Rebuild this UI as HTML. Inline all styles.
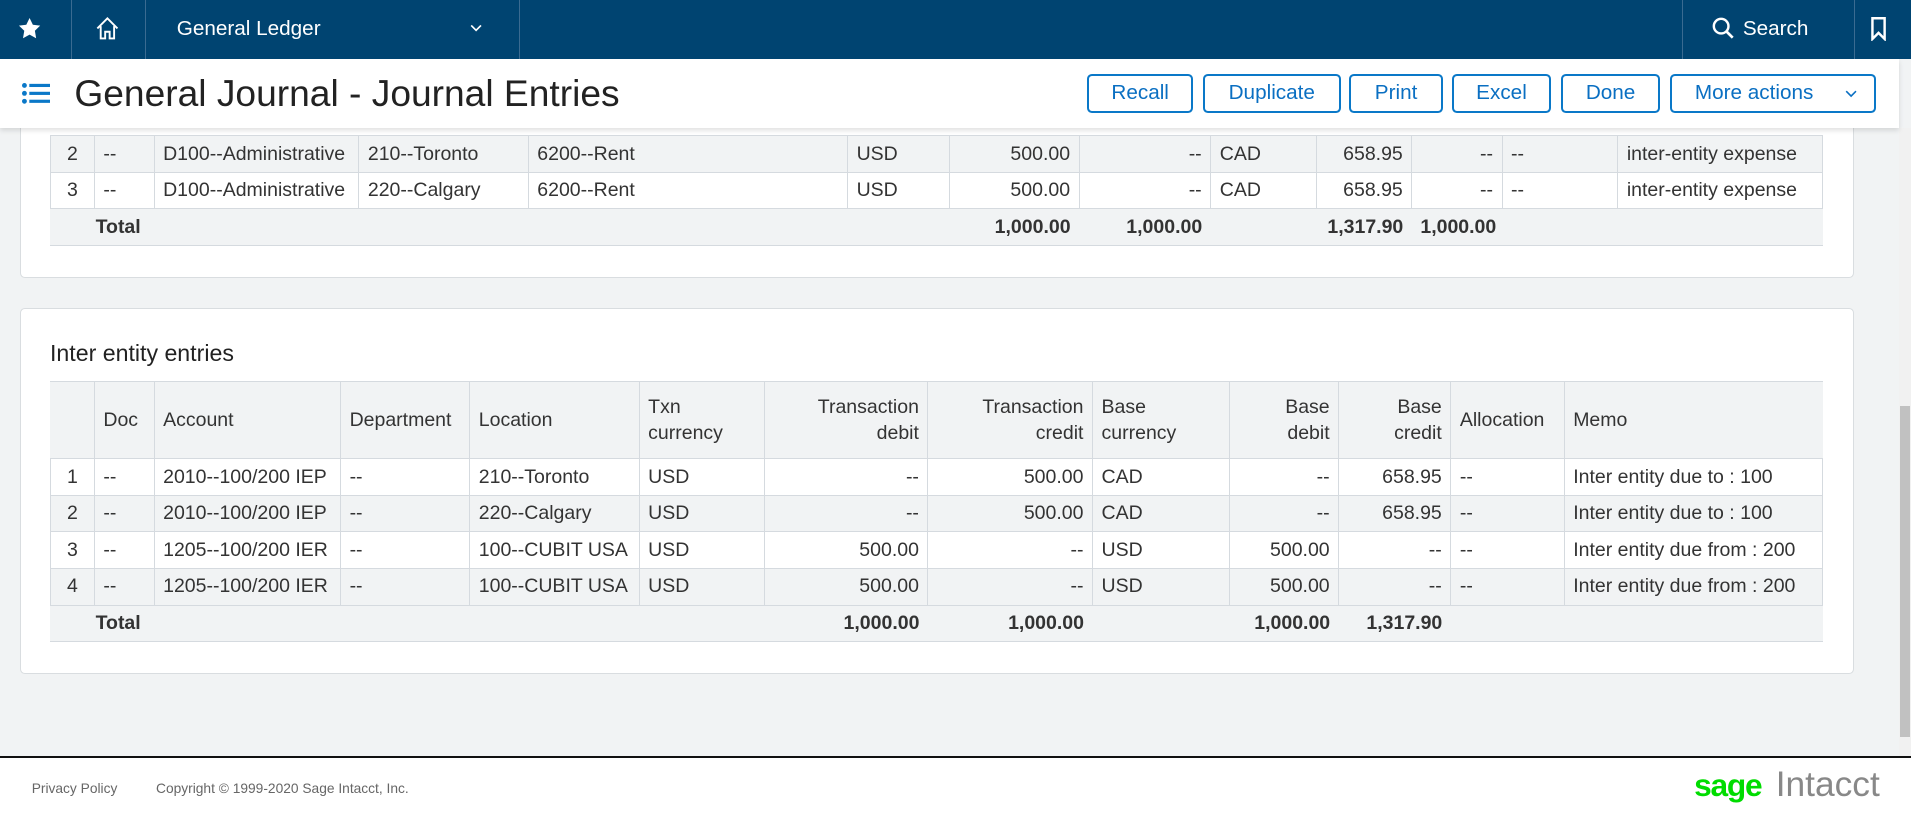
<!DOCTYPE html>
<html><head><meta charset="utf-8"><style>
*{box-sizing:border-box;margin:0;padding:0}
html,body{width:1911px;height:815px;overflow:hidden;background:#f1f3f4}
#root{zoom:1.21875;width:1568px;height:669px;position:relative;font-family:"Liberation Sans",Arial,sans-serif;color:#333;background:#f1f3f4;overflow:hidden}
.nav{position:absolute;left:0;top:0;width:1568px;height:48px;background:#004471;z-index:5}
.nav .d{position:absolute;top:0;width:1px;height:48px;background:#3a6b91}
.nav .t{position:absolute;color:#fff;font-size:17px;top:14px}
.hdr{position:absolute;left:0;top:48px;width:1558px;height:57px;background:#fff;box-shadow:0 2px 4px rgba(0,0,0,.12);z-index:4}
.title{position:absolute;left:61px;top:11px;font-size:30.5px;color:#222}
.btn{position:absolute;top:13px;height:32px;border:2px solid #0a78c8;border-radius:4px;color:#0a6fc2;font-size:17px;line-height:28px;text-align:center;background:#fff}
.card{position:absolute;left:16px;width:1505px;background:#fff;border:1px solid #d9dde0;border-radius:4px}
table{position:absolute;border-collapse:collapse;table-layout:fixed;font-size:16px;color:#333}
td{border:1px solid #d5dadf;height:30px;padding:0 7px;white-space:nowrap;overflow:hidden}
tr.g td{background:#f1f3f4}
tr.w td{background:#fff}
td.r{text-align:right}
td.n{text-align:center;padding:0}
td.nb{border-left:none;border-right:none}
th{font-weight:normal;border:1px solid #d5dadf;background:#f1f3f4;padding:0 7px;text-align:left;height:63px;line-height:22px;vertical-align:middle;white-space:nowrap}
th.r{text-align:right}
.sb{position:absolute;left:1558px;top:105px;width:10px;height:515px;background:#f1f1f1}
.foot{position:absolute;left:0;top:620px;width:1568px;height:49px;background:#fff;border-top:2px solid #111}
</style></head><body><div id="root">

<div class="nav">
 <div class="d" style="left:58px"></div><div class="d" style="left:119px"></div><div class="d" style="left:426px"></div><div class="d" style="left:1380px"></div><div class="d" style="left:1521px"></div>
 <svg style="position:absolute;left:15px;top:14px" width="19" height="19" viewBox="0 0 24 24"><path fill="#fff" d="M12 1l3.4 7 7.6 1-5.5 5.3 1.3 7.7L12 18.3 5.2 22l1.3-7.7L1 9l7.6-1z"/></svg>
 <svg style="position:absolute;left:77px;top:12px" width="22" height="22" viewBox="0 0 24 24"><path fill="none" stroke="#fff" stroke-width="1.7" d="M3 12L12 3l9 9M6 10v11h4v-6h4v6h4V10"/></svg>
 <div class="t" style="left:145px">General Ledger</div>
 <svg style="position:absolute;left:386px;top:19px" width="10" height="8" viewBox="0 0 10 8"><path d="M1 2l4 4 4-4" fill="none" stroke="#fff" stroke-width="1.4"/></svg>
 <svg style="position:absolute;left:1405px;top:14px" width="18" height="19" viewBox="0 0 18 19"><circle cx="7.5" cy="7.5" r="6" fill="none" stroke="#fff" stroke-width="2"/><path d="M12 12l5 5" stroke="#fff" stroke-width="2.2"/></svg>
 <div class="t" style="left:1430px">Search</div>
 <svg style="position:absolute;left:1534px;top:14px" width="14" height="20" viewBox="0 0 14 20"><path d="M2 1h10v17l-5-5-5 5z" fill="none" stroke="#fff" stroke-width="2"/></svg>
</div>

<div class="hdr">
 <svg style="position:absolute;left:18px;top:20px" width="23" height="17" viewBox="0 0 23 17"><g fill="#0a78c8"><circle cx="2" cy="2" r="2"/><circle cx="2" cy="8.5" r="2"/><circle cx="2" cy="15" r="2"/><rect x="6" y="0.7" width="17" height="2.6"/><rect x="6" y="7.2" width="17" height="2.6"/><rect x="6" y="13.7" width="17" height="2.6"/></g></svg>
 <div class="title">General Journal - Journal Entries</div>
 <div class="btn" style="left:892px;width:87px">Recall</div>
 <div class="btn" style="left:987px;width:113px">Duplicate</div>
 <div class="btn" style="left:1107px;width:77px">Print</div>
 <div class="btn" style="left:1191px;width:82px">Excel</div>
 <div class="btn" style="left:1281px;width:81px">Done</div>
 <div class="btn" style="left:1370px;width:169px;text-align:left;padding-left:19px">More actions<svg style="position:absolute;left:142px;top:11px" width="10" height="7" viewBox="0 0 10 7"><path d="M1 1l4 4 4-4" fill="none" stroke="#0a6fc2" stroke-width="1.3"/></svg></div>
</div>

<div class="card" style="top:60px;height:168px"></div>
<table style="left:41px;top:111px;width:1454px">
<colgroup><col style="width:36px"><col style="width:49px"><col style="width:168px"><col style="width:139px"><col style="width:262px"><col style="width:84px"><col style="width:106px"><col style="width:108px"><col style="width:87px"><col style="width:78px"><col style="width:74px"><col style="width:95px"><col style="width:168px"></colgroup>
<tr class="g"><td class="n">2</td><td>--</td><td>D100--Administrative</td><td>210--Toronto</td><td>6200--Rent</td><td>USD</td><td class="r">500.00</td><td class="r">--</td><td>CAD</td><td class="r">658.95</td><td class="r">--</td><td>--</td><td>inter-entity expense</td></tr>
<tr class="w"><td class="n">3</td><td>--</td><td>D100--Administrative</td><td>220--Calgary</td><td>6200--Rent</td><td>USD</td><td class="r">500.00</td><td class="r">--</td><td>CAD</td><td class="r">658.95</td><td class="r">--</td><td>--</td><td>inter-entity expense</td></tr>
<tr class="g"><td class="nb" style="border-left:none"></td><td colspan="5" class="nb" style="font-weight:bold;padding-left:1px">Total</td><td class="r nb" style="font-weight:bold">1,000.00</td><td class="r nb" style="font-weight:bold">1,000.00</td><td class="nb"></td><td class="r nb" style="font-weight:bold">1,317.90</td><td class="r nb" style="font-weight:bold">1,000.00</td><td class="nb"></td><td class="nb" style="border-right:none"></td></tr>
</table>

<div class="card" style="top:253px;height:300px"></div>
<div style="position:absolute;left:41px;top:279px;font-size:19px;color:#222">Inter entity entries</div>
<table style="left:41px;top:313px;width:1454px">
<colgroup><col style="width:36px"><col style="width:49px"><col style="width:153px"><col style="width:106px"><col style="width:139px"><col style="width:103px"><col style="width:134px"><col style="width:135px"><col style="width:112px"><col style="width:90px"><col style="width:92px"><col style="width:93px"><col style="width:212px"></colgroup>
<tr><th style="border-left:none"></th><th>Doc</th><th>Account</th><th>Department</th><th>Location</th><th>Txn<br>currency</th><th class="r">Transaction<br>debit</th><th class="r">Transaction<br>credit</th><th>Base<br>currency</th><th class="r">Base<br>debit</th><th class="r">Base<br>credit</th><th>Allocation</th><th style="border-right:none">Memo</th></tr>
<tr class="w"><td class="n">1</td><td>--</td><td>2010--100/200 IEP</td><td>--</td><td>210--Toronto</td><td>USD</td><td class="r">--</td><td class="r">500.00</td><td>CAD</td><td class="r">--</td><td class="r">658.95</td><td>--</td><td>Inter entity due to : 100</td></tr>
<tr class="g"><td class="n">2</td><td>--</td><td>2010--100/200 IEP</td><td>--</td><td>220--Calgary</td><td>USD</td><td class="r">--</td><td class="r">500.00</td><td>CAD</td><td class="r">--</td><td class="r">658.95</td><td>--</td><td>Inter entity due to : 100</td></tr>
<tr class="w"><td class="n">3</td><td>--</td><td>1205--100/200 IER</td><td>--</td><td>100--CUBIT USA</td><td>USD</td><td class="r">500.00</td><td class="r">--</td><td>USD</td><td class="r">500.00</td><td class="r">--</td><td>--</td><td>Inter entity due from : 200</td></tr>
<tr class="g"><td class="n">4</td><td>--</td><td>1205--100/200 IER</td><td>--</td><td>100--CUBIT USA</td><td>USD</td><td class="r">500.00</td><td class="r">--</td><td>USD</td><td class="r">500.00</td><td class="r">--</td><td>--</td><td>Inter entity due from : 200</td></tr>
<tr class="g"><td class="nb" style="border-left:none"></td><td colspan="5" class="nb" style="font-weight:bold;padding-left:1px">Total</td><td class="r nb" style="font-weight:bold">1,000.00</td><td class="r nb" style="font-weight:bold">1,000.00</td><td class="nb"></td><td class="r nb" style="font-weight:bold">1,000.00</td><td class="r nb" style="font-weight:bold">1,317.90</td><td class="nb"></td><td class="nb" style="border-right:none"></td></tr>
</table>

<div class="sb"><div style="position:absolute;left:1px;top:228px;width:8px;height:272px;background:#c1c1c1"></div></div>

<div class="foot">
 <div style="position:absolute;left:26px;top:19px;font-size:11.3px;color:#666">Privacy Policy</div>
 <div style="position:absolute;left:128px;top:19px;font-size:11.3px;color:#666">Copyright © 1999-2020 Sage Intacct, Inc.</div>
 <div style="position:absolute;left:1390px;top:8px;font-size:26px;font-weight:bold;color:#00dc00;letter-spacing:-1px">sage</div>
 <div style="position:absolute;left:1457px;top:6px;font-size:29px;color:#888">Intacct</div>
</div>
</div></body></html>
